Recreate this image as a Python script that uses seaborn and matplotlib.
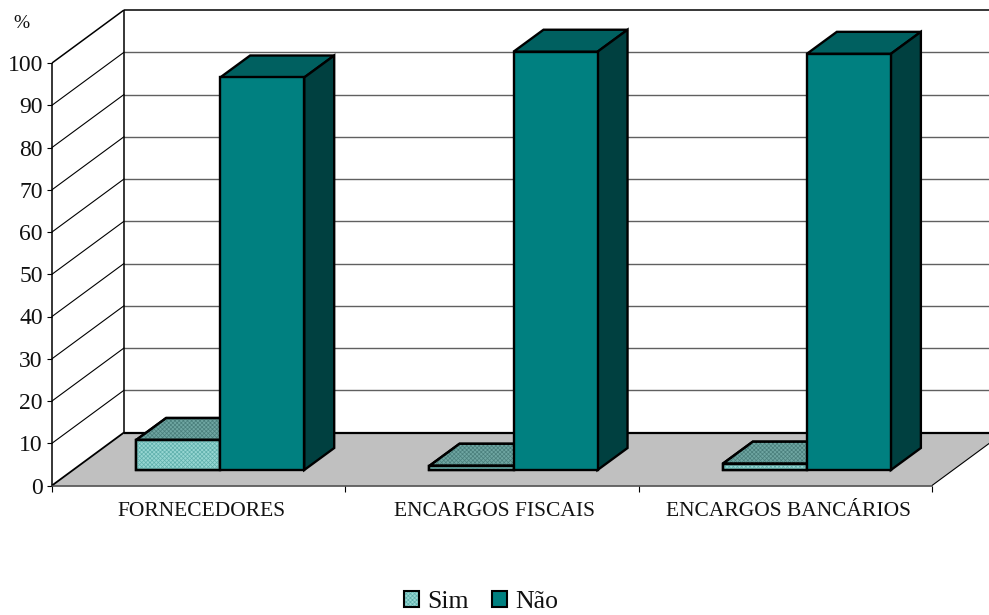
import matplotlib
matplotlib.use("Agg")
import matplotlib.pyplot as plt
from matplotlib.legend_handler import HandlerTuple
from matplotlib.patches import Polygon, Patch
import pandas as pd
import seaborn as sns

categories = ["FORNECEDORES", "ENCARGOS FISCAIS", "ENCARGOS BANCÁRIOS"]
sim = [7.1, 1.0, 1.5]
nao = [92.9, 99.0, 98.5]
series_names = ["Sim", "Não"]
y_ticks = list(range(0, 101, 10))

W, H = 989, 615
PX_X = 880 / 3       # pixels per category
PX_Y = 4.225         # pixels per percent
EDGE = 1.7

df = pd.DataFrame({
    "categoria": categories * 2,
    "resposta": [series_names[0]] * 3 + [series_names[1]] * 3,
    "valor": sim + nao,
})

sns.set_style("white")
plt.rcParams["font.family"] = ["Liberation Serif", "DejaVu Serif"]
plt.rcParams["hatch.linewidth"] = 0.5

fig = plt.figure(figsize=(W / 100, H / 100), dpi=100)


def axes_at(left, base):
    return fig.add_axes([left / W, (H - base) / H, 880 / W, 100 * PX_Y / H])


# front plane of the chart box
ax = axes_at(52, 485.5)
ax.set_xlim(-0.5, 2.5)
ax.set_ylim(0, 100)
sns.despine(ax=ax, top=True, right=True, left=True, bottom=True)

# depth of the box, in data units
box_dx = 72 / PX_X
box_dy = 53 / PX_Y
x0, x1 = -0.5, 2.5

# floor
ax.add_patch(Polygon([(x0, 0), (x1, 0), (x1 + box_dx, box_dy), (x0 + box_dx, box_dy)],
                     closed=True, fc="#c0c0c0", ec="none", clip_on=False, zorder=1))

# walls and gridlines
for v in y_ticks[1:-1]:
    ax.plot([x0, x0 + box_dx], [v, v + box_dy], color="black", lw=0.8, clip_on=False, zorder=2)
    ax.plot([x0 + box_dx, x1 + box_dx], [v + box_dy, v + box_dy], color="#606060", lw=1.0,
            clip_on=False, zorder=2)
line = dict(color="black", clip_on=False, zorder=3, solid_capstyle="butt")
ax.plot([x0, x0 + box_dx], [100, 100 + box_dy], lw=1.1, **line)
ax.plot([x0 + box_dx, x1 + box_dx], [100 + box_dy, 100 + box_dy], lw=1.1, **line)
ax.plot([x0, x0], [0, 100], lw=1.1, **line)
ax.plot([x0 + box_dx, x0 + box_dx], [box_dy, 100 + box_dy], lw=1.1, **line)
ax.plot([x0, x0 + box_dx], [0, box_dy], lw=1.3, **line)
ax.plot([x0 + box_dx, x1 + box_dx], [box_dy, box_dy], lw=1.6, **line)
ax.plot([x0, x1], [0, 0], color="#404040", lw=1.1, clip_on=False, zorder=3)
ax.plot([x1, x1 + box_dx], [0, box_dy], lw=0.8, **line)

ax.set_yticks(y_ticks)
ax.set_yticklabels([str(v) for v in y_ticks])
ax.set_xticks([-0.5, 0.5, 1.5, 2.5])
ax.set_xticklabels([])
ax.set_xticks([0.01, 1.01, 2.01], labels=categories, minor=True)
ax.tick_params(axis="y", which="major", length=3.6, width=0.8, color="black", pad=3,
               labelsize=17, left=True, labelcolor="#111111")
ax.tick_params(axis="x", which="major", length=4, width=0.8, color="black", bottom=True)
ax.tick_params(axis="x", which="minor", length=0, pad=12, labelsize=15.5, labelcolor="#111111")
ax.set_xlabel("")
ax.set_ylabel("")
fig.text(21 / W, 1 - 23 / H, "%", fontsize=14, ha="center", va="center", color="#111111")

# bars stand on a plane a little behind the front edge
bx = axes_at(73.5, 470)
bx.patch.set_alpha(0)
sns.barplot(data=df, x="categoria", y="valor", hue="resposta", order=categories,
            hue_order=series_names, palette=["#96d6d2", "#008080"], width=0.573, gap=0,
            saturation=1, edgecolor="black", linewidth=EDGE, legend=False, ax=bx)
bx.set_xlim(-0.5, 2.5)
bx.set_ylim(0, 100)
bx.axis("off")

bar_dx = 30 / PX_X
bar_dy = 22 / PX_Y


def dither(verts, color, z):
    # Sim bars have a fine checker fill, edge goes back on top of it
    bx.add_patch(Polygon(verts, closed=True, fc="none", ec=color, lw=0, hatch="xxxxxxxx",
                         zorder=z, clip_on=False))
    bx.add_patch(Polygon(verts, closed=True, fc="none", ec="black", lw=EDGE, zorder=z + 0.1,
                         clip_on=False))


styles = [("#6fa6a2", None, 3), ("#006060", "#004040", 6)]
for i, (container, (top_col, side_col, z)) in enumerate(zip(bx.containers, styles)):
    for bar in container:
        bar.set_zorder(z + 1)
        bar.set_clip_on(False)
        xa, xb = bar.get_x(), bar.get_x() + bar.get_width()
        v = bar.get_height()
        top = [(xa, v), (xb, v), (xb + bar_dx, v + bar_dy), (xa + bar_dx, v + bar_dy)]
        bx.add_patch(Polygon(top, closed=True, fc=top_col, ec="black", lw=EDGE, zorder=z, clip_on=False))
        if side_col:
            bx.add_patch(Polygon([(xb, 0), (xb + bar_dx, bar_dy), (xb + bar_dx, v + bar_dy), (xb, v)],
                                 closed=True, fc=side_col, ec="black", lw=EDGE, zorder=z, clip_on=False))
        if i == 0:
            dither(top, "#4a7f7c", z + 0.2)
            dither([(xa, 0), (xb, 0), (xb, v), (xa, v)], "#5fb0ac", z + 1.2)

legend_handles = [
    (Patch(fc="#96d6d2", ec="none"), Patch(fc="none", ec="#5fb0ac", lw=0, hatch="xxxxxxxx"),
     Patch(fc="none", ec="black", lw=1.5)),
    Patch(fc="#008080", ec="black", lw=1.5),
]
fig.legend(legend_handles, series_names, loc="center", bbox_to_anchor=(481 / W, 1 - 602 / H),
           ncol=2, frameon=False, fontsize=18.5, handlelength=0.58, handleheight=0.58,
           handletextpad=0.3, columnspacing=0.93, labelcolor="#111111",
           handler_map={tuple: HandlerTuple(ndivide=1, pad=0)})

fig.savefig("out.png", dpi=100)
plt.close(fig)
